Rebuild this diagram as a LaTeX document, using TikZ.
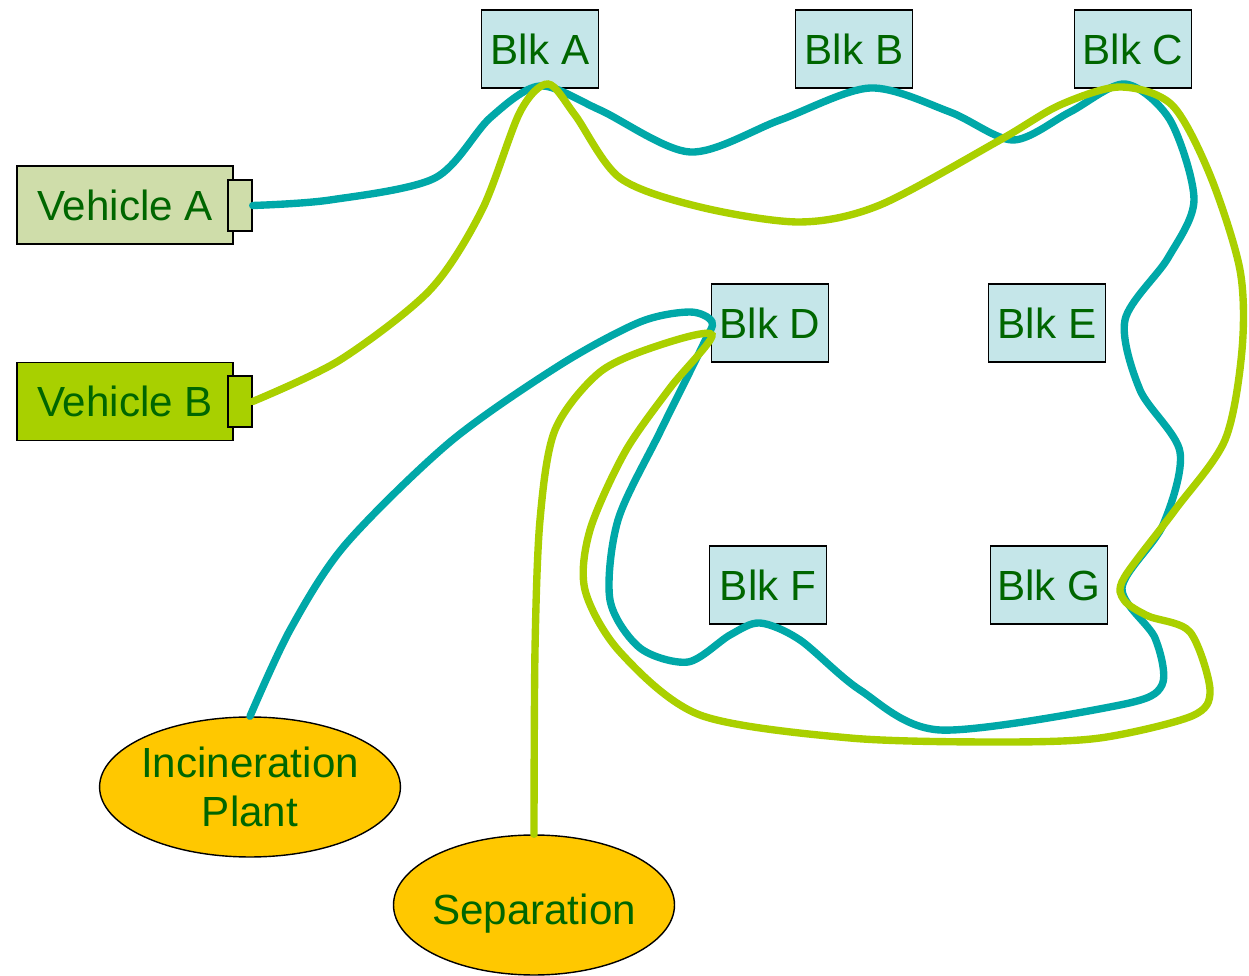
\documentclass[tikz,border=0pt]{standalone}
\usepackage{fontspec}
\setmainfont{Liberation Sans}
\usetikzlibrary{shapes.geometric}
\definecolor{txtgreen}{HTML}{006600}
\definecolor{blkfill}{HTML}{C5E6E9}
\definecolor{vehafill}{HTML}{CFDDAA}
\definecolor{vehbfill}{HTML}{A8D000}
\definecolor{plantfill}{HTML}{FFC800}
\definecolor{tealline}{HTML}{00A8A8}
\definecolor{limeline}{HTML}{AAD000}
\begin{document}
\begin{tikzpicture}[x=0.02cm,y=-0.02cm,
  lbl/.style={text=txtgreen, font=\fontsize{24}{28}\selectfont},
  blk/.style={lbl, draw, line width=0.8pt, fill=blkfill, minimum width=2.34cm, minimum height=1.56cm, inner sep=0pt},
  veh/.style={lbl, draw, line width=0.8pt, minimum width=4.32cm, minimum height=1.56cm, inner sep=0pt},
  port/.style={draw, line width=0.8pt, minimum width=0.48cm, minimum height=1.02cm, inner sep=0pt},
  plant/.style={lbl, draw, line width=0.8pt, ellipse, fill=plantfill, minimum height=2.8cm, inner xsep=-1.5pt, inner ysep=0pt, align=center},
  route/.style={line width=4.2pt, line cap=round}]
\useasboundingbox (0,0) rectangle (1249,976);
% blocks
\node[blk] (blkA) at (540,49) {Blk A};
\node[blk] (blkB) at (854,49) {Blk B};
\node[blk] (blkC) at (1133,49) {Blk C};
\node[blk] (blkD) at (770,323) {Blk D};
\node[blk] (blkE) at (1047,323) {Blk E};
\node[blk] (blkF) at (768,585) {Blk F};
\node[blk] (blkG) at (1049,585) {Blk G};
% vehicles
\node[veh, fill=vehafill] (vehA) at (125,205) {Vehicle A};
\node[port, fill=vehafill] (portA) at (240,205.5) {};
\node[veh, fill=vehbfill] (vehB) at (125,401.5) {Vehicle B};
\node[port, fill=vehbfill] (portB) at (240,401.5) {};
% plants
\node[plant, minimum width=5.9cm] (incin) at (250,787) {\raisebox{-2pt}[0.75em][0.2em]{Incineration}\\\raisebox{-2pt}[0.75em][0.2em]{Plant}};
\node[plant, minimum width=5.55cm] (separ) at (534,905) {\raisebox{-4.5pt}[0.75em][0.2em]{Separation}};
% route of vehicle A
\draw[route, tealline] plot[smooth] coordinates {(portA.east) (330,200) (435,178) (490,118) (540,86)
  (600,110) (690,152) (780,120) (870,88) (950,112) (1013,140) (1070,112) (1125,84)
  (1170,120) (1194,200) (1168,258) (1125,320) (1140,390) (1180,452) (1163,525) (1122,588)
  (1155,638) (1162,685) (1120,705) (940,730) (860,690) (800,640) (760,623) (730,635)
  (688,662) (640,648) (610,600) (618,520) (660,432) (703,345) (712,322) (690,312)
  (640,322) (560,365) (450,442) (345,545) (290,630) (incin.north)};
% route of vehicle B
\draw[route, limeline] plot[smooth] coordinates {(portB.east) (340,360) (430,290) (482,210) (520,112) (548,84)
  (575,115) (620,178) (700,207) (800,222) (880,205) (1000,140) (1060,105) (1120,87)
  (1172,105) (1210,175) (1240,270) (1242,350) (1225,440) (1175,510) (1124,578) (1124,600)
  (1148,616) (1190,632) (1210,690) (1192,716) (1100,738) (1000,742) (850,738) (700,715)
  (620,652) (585,590) (590,530) (625,452) (670,388) (712,335) (660,345) (600,372)
  (555,430) (540,520) (535,650) (separ.north)};
\end{tikzpicture}
\end{document}
